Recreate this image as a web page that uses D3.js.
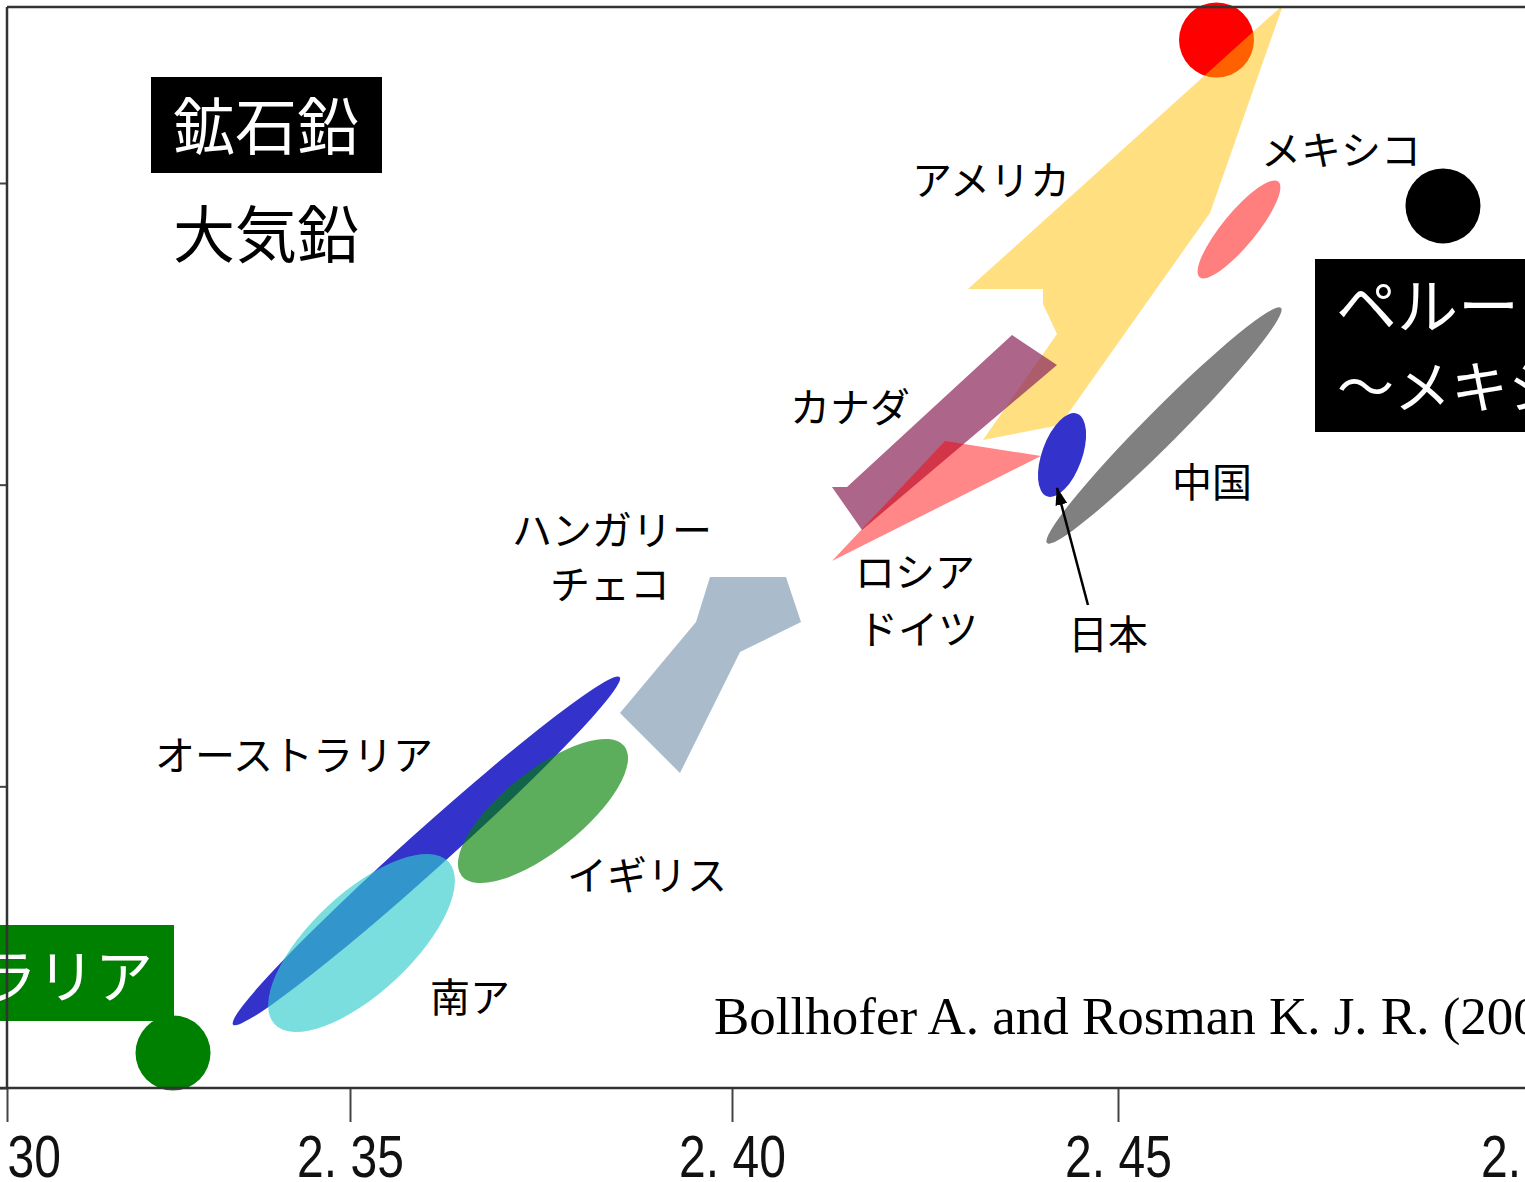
<!DOCTYPE html>
<html><head><meta charset="utf-8">
<script src="https://cdn.jsdelivr.net/npm/d3@7"></script>
<style>body{margin:0;background:#fff;overflow:hidden;} svg{display:block;}</style>
</head><body>
<script>
// ---------- DATA (208Pb/207Pb on x, 206Pb/207Pb on y) ----------
const xTickValues = [2.30, 2.35, 2.40, 2.45, 2.50];
const xTickLabels = ["2. 30", "2. 35", "2. 40", "2. 45", "2. 50"];
const yTickValues = [1.05, 1.10, 1.15, 1.20];

// ore lead points (鉱石鉛)
const oreNames = ["アメリカ", "ペルー～メキシコ", "オーストラリア"];
const oreX = [2.46184, 2.48906, 2.3242];
const oreY = [1.2237, 1.1962, 1.0558];
const oreColors = ["#ff0000", "#000000", "#008000"];

// atmospheric lead fields drawn as ellipses: centre, one end of major axis, minor/major ratio
const ellipseNames = ["オーストラリア", "イギリス", "南ア", "日本", "中国", "メキシコ"];
const ellipseCX   = [2.3600, 2.37526, 2.35151, 2.44275, 2.45553, 2.46454];
const ellipseCY   = [1.0893, 1.09591, 1.07403, 1.15492, 1.15981, 1.19230];
const ellipseEndX = [2.3853, 2.38590, 2.36289, 2.44470, 2.46959, 2.46927];
const ellipseEndY = [1.1181, 1.10667, 1.08749, 1.16177, 1.17929, 1.20024];
const ellipseRatio = [0.077, 0.385, 0.42, 0.455, 0.103, 0.27];
const ellipseColors = ["#3333cc", "#008000", "#33cccc", "#3333cc", "#808080", "#ff0000"];
const ellipseOpacity = [1, 0.64, 0.65, 1, 1, 0.5];

// atmospheric lead fields drawn as polygons
const hungaryPoly = [[2.39712,1.13470],[2.40699,1.13470],[2.40894,1.12724],[2.40104,1.12227],
                     [2.39319,1.10221],[2.38534,1.11216],[2.39529,1.12724]];
const americaPoly = [[2.46983,1.22951],[2.46106,1.19503],[2.44249,1.15989],[2.43251,1.15741],
                     [2.44210,1.17498],[2.44028,1.17995],[2.44028,1.18243],[2.43057,1.18243]];
const canadaPoly  = [[2.41490,1.14962],[2.43627,1.17481],[2.44210,1.16984],[2.41684,1.14249],[2.41295,1.14962]];
const russiaPoly  = [[2.42759,1.15724],[2.44003,1.15475],[2.41295,1.13735]];

// text labels (left/centre anchor, baseline) in data units
const labelTexts  = ["アメリカ", "メキシコ", "カナダ", "ロシア", "ドイツ", "日本", "中国",
                     "ハンガリー", "チェコ", "オーストラリア", "イギリス", "南ア"];
const labelX = [2.42332, 2.46719, 2.40751, 2.41593, 2.41632, 2.44352, 2.45649,
                2.38429, 2.38403, 2.32157, 2.37840, 2.36047];
const labelY = [1.19801, 1.20299, 1.16039, 1.13304, 1.12359, 1.12276, 1.14796,
                1.14000, 1.13105, 1.10271, 1.08282, 1.06260];
const labelAnchor = ["start","start","start","start","start","start","start",
                     "middle","middle","start","start","start"];

// arrow pointing from 日本 label to the Japan field
const arrowFrom = [2.44611, 1.13006];
const arrowTo   = [2.44210, 1.14945];

const citation = "Bollhofer A. and Rosman K. J. R. (2000, 2001)";

// ---------- DRAWING ----------
const W = 1525, H = 1182;
const plotLeft = 7, plotTop = 7, plotBottom = 1088;
const svg = d3.select("body").append("svg").attr("width", W).attr("height", H)
  .style("background", "#fff");

const x = d3.scaleLinear().domain(xTickValues).range([7, 350, 732, 1118, 1534]);
const y = d3.scaleLinear().domain([1.05, 1.20]).range([1088, 183]);

const jp = "'Noto Sans CJK JP', 'Noto Sans', sans-serif";
const g = svg.append("g");

function drawEllipse(i) {
  const cx = x(ellipseCX[i]), cy = y(ellipseCY[i]);
  const ex = x(ellipseEndX[i]), ey = y(ellipseEndY[i]);
  const a = Math.hypot(ex - cx, ey - cy);
  const ang = Math.atan2(ey - cy, ex - cx) * 180 / Math.PI;
  g.append("ellipse").attr("cx", cx).attr("cy", cy)
    .attr("rx", a).attr("ry", a * ellipseRatio[i])
    .attr("transform", `rotate(${ang} ${cx} ${cy})`)
    .attr("fill", ellipseColors[i]).attr("fill-opacity", ellipseOpacity[i]);
}
const line = d3.line().x(d => x(d[0])).y(d => y(d[1])).curve(d3.curveLinearClosed);
function drawPoly(pts, fill, op) {
  g.append("path").attr("d", line(pts)).attr("fill", fill).attr("fill-opacity", op);
}
function drawOre(i) {
  g.append("circle").attr("cx", x(oreX[i])).attr("cy", y(oreY[i])).attr("r", 37.5)
    .attr("fill", oreColors[i]);
}

drawEllipse(0);               // Australia
drawEllipse(1);               // UK
drawEllipse(2);               // South Africa
drawPoly(hungaryPoly, "#aabbcc", 1);
drawOre(0);                   // US ore
drawPoly(americaPoly, "#ffc000", 0.5);
drawPoly(canadaPoly, "#923262", 0.75);
drawPoly(russiaPoly, "#ff0000", 0.47);
drawEllipse(3);               // Japan
drawEllipse(4);               // China
drawEllipse(5);               // Mexico
drawOre(1);                   // Peru-Mexico ore
drawOre(2);                   // Australia ore

// labels
labelTexts.forEach((t, i) => {
  g.append("text").attr("x", x(labelX[i])).attr("y", y(labelY[i]))
    .attr("text-anchor", labelAnchor[i])
    .style("font-family", jp).style("font-size", "40px").attr("fill", "#000").text(t);
});

// arrow
svg.append("defs").append("marker").attr("id", "ah")
  .attr("markerUnits", "userSpaceOnUse").attr("markerWidth", 18).attr("markerHeight", 12)
  .attr("refX", 17).attr("refY", 6).attr("orient", "auto")
  .append("path").attr("d", "M0,0 L18,6 L0,12 Z").attr("fill", "#000");
g.append("line").attr("x1", x(arrowFrom[0])).attr("y1", y(arrowFrom[1]))
  .attr("x2", x(arrowTo[0])).attr("y2", y(arrowTo[1]))
  .attr("stroke", "#000").attr("stroke-width", 2.5).attr("marker-end", "url(#ah)");

// boxed legend-like texts
g.append("rect").attr("x", 151).attr("y", 77).attr("width", 231).attr("height", 96).attr("fill", "#000");
g.append("text").attr("x", 266).attr("y", 150).attr("text-anchor", "middle")
  .style("font-family", jp).style("font-size", "62px").attr("fill", "#fff").text("鉱石鉛");
g.append("text").attr("x", 266).attr("y", 258).attr("text-anchor", "middle")
  .style("font-family", jp).style("font-size", "62px").attr("fill", "#000").text("大気鉛");

g.append("rect").attr("x", 1315).attr("y", 259).attr("width", 260).attr("height", 173).attr("fill", "#000");
g.append("text").attr("x", 1336).attr("y", 329)
  .style("font-family", jp).style("font-size", "61px").attr("fill", "#fff").text("ペルー");
g.append("text").attr("x", 1337).attr("y", 408)
  .style("font-family", jp).style("font-size", "57px").attr("fill", "#fff").text("～メキシコ");

g.append("rect").attr("x", -320).attr("y", 925).attr("width", 494).attr("height", 96).attr("fill", "#008000");
g.append("text").attr("x", 153).attr("y", 998).attr("text-anchor", "end")
  .style("font-family", jp).style("font-size", "58px").attr("fill", "#fff").text("オーストラリア");

// citation
g.append("text").attr("x", 714).attr("y", 1034)
  .style("font-family", "'Liberation Serif', 'Times New Roman', serif").style("font-size", "53px")
  .attr("fill", "#000").text(citation);

// axes
const xAxis = d3.axisBottom(x).tickValues(xTickValues).tickFormat((d, i) => xTickLabels[i])
  .tickSize(34).tickPadding(12);
const ax = svg.append("g").attr("transform", `translate(0,${plotBottom})`).call(xAxis);
ax.select(".domain").remove();
ax.selectAll(".tick line").attr("stroke", "#444").attr("stroke-width", 2);
ax.selectAll(".tick text").style("font-family", "'Liberation Sans Narrow', 'Liberation Sans', sans-serif")
  .style("font-size", "60px").attr("fill", "#111").attr("transform", "scale(0.8,1)");

const yAxis = d3.axisLeft(y).tickValues(yTickValues).tickSize(7).tickFormat("");
const ay = svg.append("g").attr("transform", `translate(${plotLeft},0)`).call(yAxis);
ay.select(".domain").remove();
ay.selectAll(".tick line").attr("stroke", "#444").attr("stroke-width", 2);

// frame
const frame = svg.append("g").attr("stroke", "#333").attr("stroke-width", 2.5).attr("fill", "none");
frame.append("line").attr("x1", plotLeft).attr("x2", W).attr("y1", plotTop).attr("y2", plotTop);
frame.append("line").attr("x1", plotLeft).attr("x2", plotLeft).attr("y1", plotTop).attr("y2", plotBottom);
frame.append("line").attr("x1", 0).attr("x2", W).attr("y1", plotBottom).attr("y2", plotBottom);
</script>
</body></html>
